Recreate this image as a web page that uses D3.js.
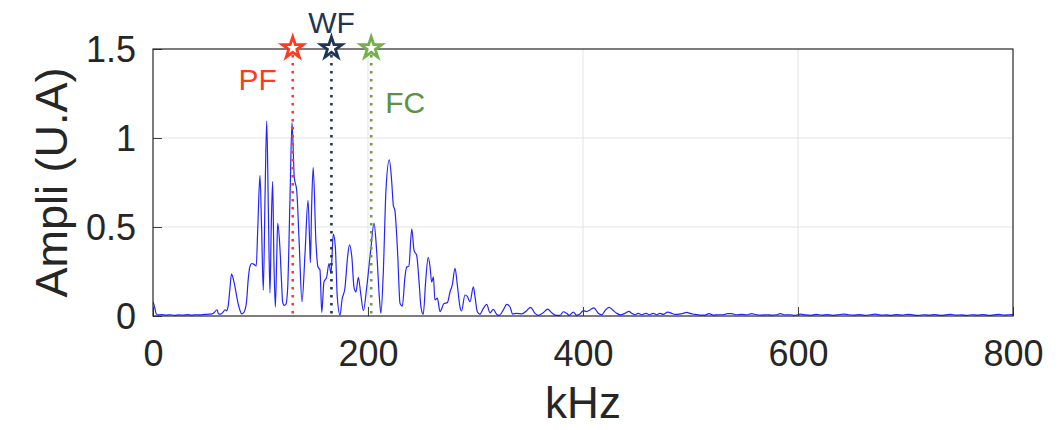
<!DOCTYPE html>
<html>
<head>
<meta charset="utf-8">
<script src="https://cdn.jsdelivr.net/npm/d3@7"></script>
<style>
  html, body { margin: 0; padding: 0; background: #fff; }
  svg { display: block; font-family: "Liberation Sans", Arial, Helvetica, sans-serif; }
</style>
</head>
<body>
<svg id="chart" width="1062" height="430"></svg>
<script>
// Spectrum frequencies (kHz)
const freqKHz = [
  0, 1.5, 3, 5, 8, 12, 16, 20, 24, 28, 32, 36, 40, 44, 48, 52, 55, 57, 59.5, 61,
  63, 65, 67, 68.5, 70, 71.5, 73, 75, 77, 79, 81, 82.5, 84.5, 87, 88.5, 90, 92, 94, 96, 97.5,
  99.5, 101, 102.6, 104.3, 105.8, 107.3, 108.8, 110, 111.3, 112.5, 113.8, 115, 116, 118, 119.5, 120.6, 122, 123.7, 125.3, 127.4,
  129.3, 131.4, 133.7, 136, 138.6, 141.4, 144.2, 145.8, 146.4, 147.5, 149, 151.6, 153.5, 155.3, 157, 159, 161.6, 163.7, 165.6, 167.7,
  169.6, 171.4, 174, 175.8, 178.6, 181, 182.8, 185, 187, 188.8, 191, 193.2, 195.7, 198.8, 202.5, 205.6, 208, 210.5, 212, 214.2,
  216.7, 219.8, 222, 223.6, 225, 227.6, 229.8, 231.9, 234.4, 236, 238, 240.7, 242.8, 245.3, 247.4, 249.3, 251.4, 253.7, 256, 257.7,
  259.2, 260.8, 262.3, 264.5, 267, 270.7, 273.8, 276.3, 278.4, 281, 283, 285.6, 287, 290.2, 292.4, 294.9, 298, 299.5, 301.7, 304,
  307.3, 310.4, 313.5, 316.6, 319.7, 322, 325.9, 329, 332, 334.6, 338.3, 343, 347.6, 351.3, 355.3, 358.4, 363, 367.1, 370.9, 374.9,
  378.6, 381.7, 384.8, 387.3, 391, 394, 397.2, 400.3, 403.4, 406.5, 410.2, 414.2, 417.4, 420.5, 424.2, 427.6, 431.4, 435, 439, 442.8,
  445.3, 448.4, 451.4, 454.6, 458.6, 461.7, 465.4, 468.5, 471.6, 474.7, 478.8, 482.5, 485.6, 489.6, 493.3, 496.5, 500.2, 504.2, 508.8, 513.5,
  517.2, 521.2, 525.9, 530.5, 534.2, 538.3, 542.9, 547.6, 552.3, 556.9, 561.6, 566.2, 570.9, 575.5, 580.2, 583.3, 588, 592.6, 597, 602,
  607, 612, 617, 622, 627, 632, 637, 642, 647, 652, 657, 662, 667, 672, 677, 682, 687, 692, 697, 702,
  707, 712, 717, 722, 727, 732, 737, 742, 747, 752, 757, 762, 767, 772, 777, 782, 787, 792, 796, 800
];

// Spectrum amplitudes (arbitrary units)
const ampli = [
  0.08, 0.05, 0.012, 0.006, 0.008, 0.005, 0.007, 0.004, 0.006, 0.005, 0.008, 0.005, 0.007, 0.006, 0.009, 0.01, 0.012, 0.02, 0.035, 0.012,
  0.01, 0.02, 0.035, 0.03, 0.06, 0.15, 0.235, 0.2, 0.14, 0.075, 0.03, 0.012, 0.02, 0.08, 0.2, 0.275, 0.295, 0.29, 0.28, 0.5,
  0.79, 0.5, 0.145, 0.7, 1.097, 0.6, 0.13, 0.5, 0.755, 0.3, 0.05, 0.3, 0.52, 0.39, 0.2, 0.08, 0.06, 0.067, 0.16, 0.65,
  1.087, 0.78, 0.705, 0.41, 0.08, 0.35, 0.65, 0.40, 0.30, 0.6, 0.835, 0.41, 0.275, 0.26, 0.02, 0.19, 0.22, 0.295, 0.24, 0.46,
  0.39, 0.11, 0.005, 0.09, 0.16, 0.33, 0.40, 0.33, 0.16, 0.136, 0.217, 0.127, 0.03, 0.16, 0.37, 0.52, 0.37, 0.11, 0.015, 0.24,
  0.705, 0.877, 0.76, 0.62, 0.593, 0.35, 0.07, 0.056, 0.22, 0.275, 0.28, 0.49, 0.37, 0.34, 0.2, 0.05, 0.01, 0.2, 0.33, 0.276,
  0.19, 0.22, 0.09, 0.1, 0.025, 0.07, 0.075, 0.135, 0.175, 0.267, 0.18, 0.05, 0.028, 0.118, 0.11, 0.08, 0.164, 0.11, 0.024, 0.01,
  0.043, 0.065, 0.018, 0.037, 0.01, 0.004, 0.034, 0.065, 0.052, 0.011, 0.015, 0.012, 0.03, 0.049, 0.015, 0.004, 0.018, 0.039, 0.018, 0.004,
  0.004, 0.024, 0.015, 0.004, 0.022, 0.004, 0.011, 0.03, 0.025, 0.034, 0.046, 0.015, 0.006, 0.03, 0.049, 0.034, 0.015, 0.006, 0.015, 0.026,
  0.015, 0.007, 0.015, 0.007, 0.015, 0.007, 0.015, 0.007, 0.015, 0.009, 0.022, 0.015, 0.009, 0.011, 0.015, 0.02, 0.013, 0.009, 0.005, 0.005,
  0.013, 0.005, 0.007, 0.007, 0.013, 0.013, 0.007, 0.009, 0.007, 0.013, 0.007, 0.005, 0.007, 0.005, 0.007, 0.013, 0.007, 0.007, 0.004, 0.01,
  0.006, 0.004, 0.009, 0.005, 0.008, 0.004, 0.006, 0.011, 0.007, 0.005, 0.008, 0.004, 0.007, 0.01, 0.005, 0.006, 0.004, 0.008, 0.005, 0.009,
  0.006, 0.004, 0.007, 0.005, 0.008, 0.004, 0.006, 0.009, 0.005, 0.006, 0.004, 0.007, 0.005, 0.008, 0.004, 0.006, 0.009, 0.005, 0.007, 0.008
];

// Characteristic frequencies marked on the spectrum
const markerNames = ["PF", "WF", "FC"];
const markerKHz = [130, 166, 203];

// Axis ticks
const xTicks = [0, 200, 400, 600, 800];
const yTicks = [0, 0.5, 1, 1.5];
const yTickLabels = ["0", "0.5", "1", "1.5"];

const svg = d3.select("#chart");
const margin = { left: 153, right: 49, top: 49, bottom: 114 };
const W = 1062, H = 430;

const x = d3.scaleLinear().domain([0, 800]).range([margin.left, W - margin.right]);
const y = d3.scaleLinear().domain([0, 1.5]).range([H - margin.bottom, margin.top]);

const textColor = "#262626";
const axisColor = "#262626";

// Grid
const grid = svg.append("g");
grid.selectAll("line.gx").data(xTicks.slice(1, -1)).join("line")
  .attr("x1", d => x(d)).attr("x2", d => x(d))
  .attr("y1", y(0)).attr("y2", y(1.5))
  .attr("stroke", "#e3e3e3").attr("stroke-width", 1);
grid.selectAll("line.gy").data(yTicks.slice(1, -1)).join("line")
  .attr("x1", x(0)).attr("x2", x(800))
  .attr("y1", d => y(d)).attr("y2", d => y(d))
  .attr("stroke", "#e3e3e3").attr("stroke-width", 1);

// Spectrum trace
svg.append("defs").append("clipPath").attr("id", "plotclip")
  .append("rect").attr("x", x(0)).attr("y", y(1.5)).attr("width", x(800) - x(0)).attr("height", y(0) - y(1.5));

const line = d3.line()
  .x(i => x(freqKHz[i]))
  .y(i => y(ampli[i]))
  .curve(d3.curveMonotoneX);

svg.append("path")
  .attr("clip-path", "url(#plotclip)")
  .attr("d", line(d3.range(freqKHz.length)))
  .attr("fill", "none")
  .attr("stroke", "#2424ff")
  .attr("stroke-width", 1.2)
  .attr("stroke-linejoin", "round");

// Axes box and ticks
const xAxis = d3.axisBottom(x).tickValues(xTicks).tickSize(-9).tickPadding(24).tickFormat(d3.format("d"));
const yAxis = d3.axisLeft(y).tickValues(yTicks).tickSize(-9).tickPadding(17).tickFormat((d, i) => yTickLabels[i]);

const gx = svg.append("g").attr("transform", `translate(0,${y(0)})`).call(xAxis);
const gy = svg.append("g").attr("transform", `translate(${x(0)},0)`).call(yAxis);
[gx, gy].forEach(g => {
  g.select(".domain").remove();
  g.selectAll(".tick line").attr("stroke", "#404040").attr("stroke-width", 1);
  g.selectAll(".tick text").attr("fill", textColor).attr("font-size", 36)
    .attr("font-family", "Liberation Sans, Arial, sans-serif");
});
gy.selectAll(".tick text").attr("dy", "0.36em");

svg.append("rect")
  .attr("x", x(0)).attr("y", y(1.5))
  .attr("width", x(800) - x(0)).attr("height", y(0) - y(1.5))
  .attr("fill", "none").attr("stroke", axisColor).attr("stroke-width", 1.2);

// Axis titles
svg.append("text")
  .attr("x", (x(0) + x(800)) / 2).attr("y", 418)
  .attr("text-anchor", "middle").attr("font-size", 44).attr("fill", textColor)
  .text("kHz");

svg.append("text")
  .attr("transform", `translate(67,${(y(0) + y(1.5)) / 2}) rotate(-90)`)
  .attr("text-anchor", "middle").attr("font-size", 45).attr("fill", textColor)
  .text("Ampli (U.A)");

// Characteristic frequency markers
const markerLine = ["#ff3a1f", "#1f3555", "#6a9e46"];
const markerStar = ["#ff3a1f", "#1f3555", "#74b04c"];
const markerText = ["#ff3a1f", "#1f3555", "#5b913f"];
const labelPos = [
  { dx: -16, y: 90, anchor: "end" },
  { dx: 0, y: 33, anchor: "middle" },
  { dx: 14, y: 113, anchor: "start" }
];

const star = d3.symbol().type(d3.symbolStar).size(140);

markerKHz.forEach((f, i) => {
  svg.append("line")
    .attr("x1", x(f)).attr("x2", x(f))
    .attr("y1", y(1.5) + 6).attr("y2", y(0))
    .attr("stroke", markerLine[i]).attr("stroke-width", 2.6)
    .attr("stroke-dasharray", "2.6 5.4");
  svg.append("path")
    .attr("d", star())
    .attr("transform", `translate(${x(f)},${y(1.5) - 1})`)
    .attr("fill", "#fff").attr("stroke", markerStar[i]).attr("stroke-width", 2.8)
    .attr("stroke-linejoin", "miter");
  svg.append("text")
    .attr("x", x(f) + labelPos[i].dx).attr("y", labelPos[i].y)
    .attr("text-anchor", labelPos[i].anchor)
    .attr("font-size", 30).attr("fill", markerText[i])
    .text(markerNames[i]);
});
</script>
</body>
</html>
